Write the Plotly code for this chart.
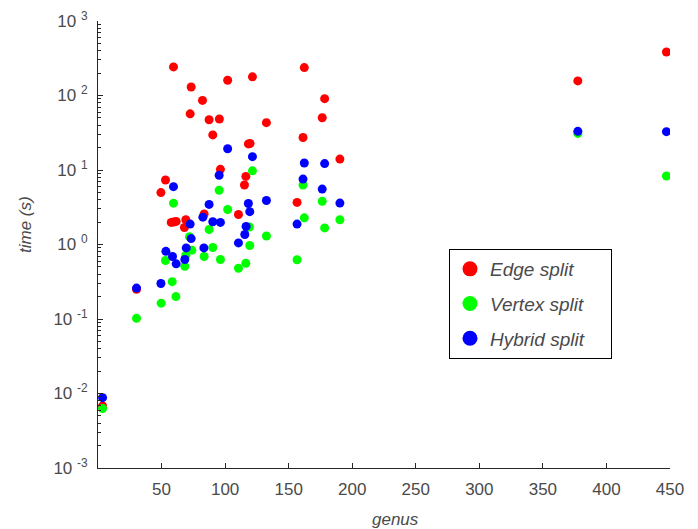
import plotly.graph_objects as go

# ---- data ----
edge_genus = [3.6, 30.3, 49.5, 53.1, 57.6, 59.4, 59.4, 61.5, 68.0, 69.1, 72.5, 73.3,
              82.2, 83.5, 87.4, 90.3, 95.5, 96.3, 102.0, 110.5, 115.2, 116.3, 118.3,
              119.6, 121.5, 132.5, 156.6, 161.3, 162.3, 176.4, 178.3, 190.3, 377.5, 447.2]
edge_time = [0.0068, 0.25, 4.97, 7.35, 1.98, 242, 2.0, 2.04, 1.69, 2.15, 56.7, 130,
             86, 2.57, 47.3, 29.6, 48.3, 10.2, 160, 2.53, 6.3, 8.2, 22.4,
             22.7, 178, 43.2, 3.67, 27.3, 237, 50.2, 90.7, 14.0, 157, 384]

vertex_genus = [3.6, 30.3, 49.7, 53.1, 58.4, 59.4, 61.3, 68.3, 69.1, 72.0, 73.8, 83.5,
                87.4, 90.3, 95.3, 96.3, 102.0, 110.5, 116.3, 119.1, 119.4, 121.5, 132.5,
                156.6, 161.3, 162.3, 176.4, 178.3, 190.3, 377.5, 447.2]
vertex_time = [0.0063, 0.102, 0.163, 0.61, 0.317, 3.59, 0.20, 0.51, 0.72, 1.27, 0.84, 0.69,
               1.59, 0.91, 5.35, 0.63, 2.95, 0.48, 0.56, 1.72, 0.97, 9.74, 1.30,
               0.625, 6.3, 2.28, 3.8, 1.67, 2.15, 31, 8.3]

hybrid_genus = [3.6, 30.3, 49.5, 53.4, 58.6, 59.4, 61.5, 68.3, 69.4, 72.5, 73.3, 82.5,
                83.3, 87.4, 90.3, 95.3, 96.3, 102.0, 110.5, 115.5, 116.5, 118.3, 119.4,
                121.5, 132.5, 156.6, 161.3, 162.3, 176.4, 178.3, 190.3, 377.5, 447.2]
hybrid_time = [0.0088, 0.26, 0.30, 0.81, 0.69, 5.97, 0.55, 0.63, 0.90, 1.88, 1.20, 2.33,
               0.90, 3.45, 2.02, 8.5, 1.98, 19.3, 1.05, 1.36, 1.75, 3.55, 2.76,
               15.1, 3.9, 1.88, 7.55, 12.4, 5.54, 12.2, 3.6, 33, 32.7]

series_names = ["Edge split", "Vertex split", "Hybrid split"]
series_colors = ["#ff0000", "#00ff00", "#0000ff"]

x_tickvals = [50, 100, 150, 200, 250, 300, 350, 400, 450]
y_tickvals = [1e-3, 1e-2, 1e-1, 1e0, 1e1, 1e2, 1e3]
y_ticktext = ["10 <sup>-3</sup>", "10 <sup>-2</sup>", "10 <sup>-1</sup>", "10 <sup>0</sup>",
              "10 <sup>1</sup>", "10 <sup>2</sup>", "10 <sup>3</sup>"]

FONT = "Liberation Sans, Arial, Helvetica, sans-serif"
AXC = "#262626"
TXT = "#4a4a4a"

ML, MR, MT, MB = 98, 28, 21, 61
W, H = 698, 529
PW, PH = W - ML - MR, H - MT - MB


def px_to_paper(px, py):
    return (px - ML) / PW, (H - MB - py) / PH


fig = go.Figure()
data = [(edge_genus, edge_time), (vertex_genus, vertex_time), (hybrid_genus, hybrid_time)]
for (gx, ty), name, col in zip(data, series_names, series_colors):
    fig.add_trace(go.Scatter(x=gx, y=ty, mode="markers", name=name, showlegend=False,
                             marker=dict(size=9, color=col, line=dict(width=0))))
# legend entries (bigger symbols as in the reference); trailing no-break spaces
# widen the legend box to the reference's right padding
PAD = "\u00a0" * 4
for name, col in zip(series_names, series_colors):
    fig.add_trace(go.Scatter(x=[None], y=[None], mode="markers",
                             name="<i>" + name + PAD + "</i>",
                             legendgroup=name, showlegend=True,
                             marker=dict(size=15, color=col, line=dict(width=0))))

lx, ly = px_to_paper(449, 249)
gx_, gy_ = px_to_paper(395, 519)
tx_, ty_ = px_to_paper(25, 225)

fig.update_layout(
    width=W, height=H,
    margin=dict(l=ML, r=MR, t=MT, b=MB, autoexpand=False),
    paper_bgcolor="white", plot_bgcolor="white",
    font=dict(family=FONT, size=17, color=TXT),
    showlegend=True,
    legend=dict(x=lx, y=ly, xanchor="left", yanchor="top",
                bgcolor="white", bordercolor="#000000", borderwidth=1,
                font=dict(family=FONT, size=19, color=TXT),
                traceorder="grouped", tracegroupgap=7,
                itemsizing="trace", itemwidth=30),
    xaxis=dict(range=[0, 450], tickvals=x_tickvals, ticks="inside", ticklen=5,
               tickcolor=AXC, showline=True, linecolor=AXC, linewidth=1,
               showgrid=False, zeroline=False, mirror=False, automargin=False,
               tickfont=dict(size=17, color=TXT), ticklabelstandoff=6),
    yaxis=dict(type="log", range=[-3, 3], tickvals=y_tickvals, ticktext=y_ticktext,
               ticks="inside", ticklen=5, tickcolor=AXC, showline=True,
               linecolor=AXC, linewidth=1, showgrid=False, zeroline=False,
               mirror=False, automargin=False, tickfont=dict(size=17, color=TXT),
               ticklabelstandoff=6,
               minor=dict(ticks="inside", ticklen=3, tickcolor=AXC, dtick="D1",
                          showgrid=False)),
    annotations=[
        dict(text="<i>genus</i>", x=gx_, y=gy_, xref="paper", yref="paper",
             showarrow=False, xanchor="center", yanchor="middle",
             font=dict(size=17, color=TXT)),
        dict(text="<i>time (s)</i>", x=tx_, y=ty_, xref="paper", yref="paper",
             textangle=-90, showarrow=False, xanchor="center", yanchor="middle",
             font=dict(size=17, color=TXT)),
    ],
)

fig.write_html("out.html", config={"displayModeBar": False},
               post_script="document.body.style.margin='0';document.body.style.overflow='hidden';")
